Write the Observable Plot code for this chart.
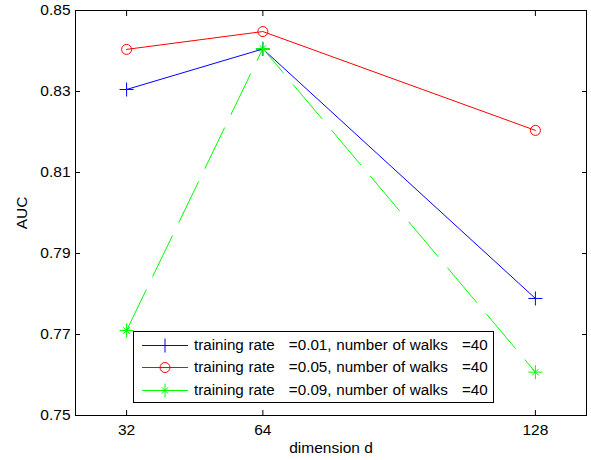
<!DOCTYPE html>
<html><head><meta charset="utf-8">
<script src="https://cdn.jsdelivr.net/npm/d3@7"></script>
<script src="https://cdn.jsdelivr.net/npm/@observablehq/plot@0.6"></script>
<style>
body{margin:0;background:#fff;}
#wrap{position:relative;width:591px;height:460px;font-family:"Liberation Sans",Arial,sans-serif;}
#legend{position:absolute;left:133px;top:331px;width:359px;height:70px;border:1px solid #000;background:#fff;}
.row{position:absolute;left:0;height:22px;width:359px;}
.row svg{position:absolute;left:0;top:0;}
.row span{position:absolute;left:60px;top:2px;font-size:15.2px;white-space:pre;word-spacing:0.5px;line-height:18px;color:#000;}
</style></head><body><div id="wrap"></div>
<script>
const dims = [32, 64, 128];
const xTicks = [32, 64, 128];
const yTicks = [0.75, 0.77, 0.79, 0.81, 0.83, 0.85];
const seriesNames = [
  "training rate   =0.01, number of walks   =40",
  "training rate   =0.05, number of walks   =40",
  "training rate   =0.09, number of walks   =40"
];
const auc001 = [0.8305, 0.8405, 0.7789];
const auc005 = [0.8404, 0.8448, 0.8204];
const auc009 = [0.7710, 0.8406, 0.7607];
const colors = ["#0000ff", "#ff0000", "#00ff00"];

const rows = (vals) => dims.map((d, i) => ({d, auc: vals[i]}));
const r1 = rows(auc001), r2 = rows(auc005), r3 = rows(auc009);

const plot = Plot.plot({
  width: 591, height: 460,
  marginLeft: 75, marginRight: 5, marginTop: 10, marginBottom: 45,
  style: {fontFamily: "Liberation Sans, Arial, sans-serif", fontSize: "15.5px", background: "white", color: "black"},
  x: {domain: [20, 140]},
  y: {domain: [0.75, 0.85]},
  marks: [
    Plot.frame({stroke: "black"}),
    Plot.axisX({ticks: xTicks, tickSize: -5, tickFormat: () => "", label: null}),
    Plot.axisX({anchor: "top", ticks: xTicks, tickSize: -5, tickFormat: () => "", label: null}),
    Plot.axisX({ticks: xTicks, tickSize: 0, tickPadding: 8, tickFormat: d3.format("d"), label: "dimension d", labelAnchor: "center", labelArrow: "none", labelOffset: 37}),
    Plot.axisY({ticks: yTicks, tickSize: -5, tickFormat: () => "", label: null}),
    Plot.axisY({anchor: "right", ticks: yTicks, tickSize: -5, tickFormat: () => "", label: null}),
    Plot.axisY({ticks: yTicks, tickSize: 0, tickPadding: 5, tickFormat: d3.format(".2f"), label: "AUC", labelAnchor: "center", labelArrow: "none", labelOffset: 60}),
    Plot.line(r1, {x: "d", y: "auc", stroke: colors[0], strokeWidth: 1}),
    Plot.dot(r1, {x: "d", y: "auc", symbol: "plus", r: 4.6, stroke: colors[0], strokeWidth: 1}),
    Plot.line(r2, {x: "d", y: "auc", stroke: colors[1], strokeWidth: 1}),
    Plot.dot(r2, {x: "d", y: "auc", symbol: "circle", r: 5, stroke: colors[1], fill: "none", strokeWidth: 1}),
    Plot.line(r3, {x: "d", y: "auc", stroke: colors[2], strokeWidth: 1, strokeDasharray: "45,15"}),
    Plot.dot(r3, {x: "d", y: "auc", symbol: "plus", r: 4.6, stroke: colors[2], strokeWidth: 1}),
    Plot.dot(r3, {x: "d", y: "auc", symbol: "times", r: 3.1, stroke: colors[2], strokeWidth: 1})
  ]
});
const wrap = document.getElementById("wrap");
wrap.appendChild(plot);

// legend
const legend = document.createElement("div");
legend.id = "legend";
wrap.appendChild(legend);
const symbols = [["plus"], ["circle"], ["plus", "times"]];
const symMap = {plus: d3.symbolPlus, circle: d3.symbolCircle, times: d3.symbolTimes};
const symR = {plus: 4.6, circle: 5, times: 3.1};
const rowTops = [2, 24, 47];
seriesNames.forEach((name, i) => {
  const row = document.createElement("div");
  row.className = "row";
  row.style.top = rowTops[i] + "px";
  const svg = d3.create("svg").attr("width", 60).attr("height", 22);
  svg.append("line").attr("x1", 8).attr("x2", 54).attr("y1", 11.5).attr("y2", 11.5)
    .attr("stroke", colors[i]).attr("stroke-width", 1);
  symbols[i].forEach(s => {
    const r = symR[s];
    svg.append("path").attr("transform", "translate(31,11.5)")
      .attr("d", d3.symbol(symMap[s], Math.PI * r * r)())
      .attr("fill", "none").attr("stroke", colors[i]).attr("stroke-width", 1);
  });
  row.appendChild(svg.node());
  const span = document.createElement("span");
  span.textContent = name;
  row.appendChild(span);
  legend.appendChild(row);
});
</script>
</body></html>
